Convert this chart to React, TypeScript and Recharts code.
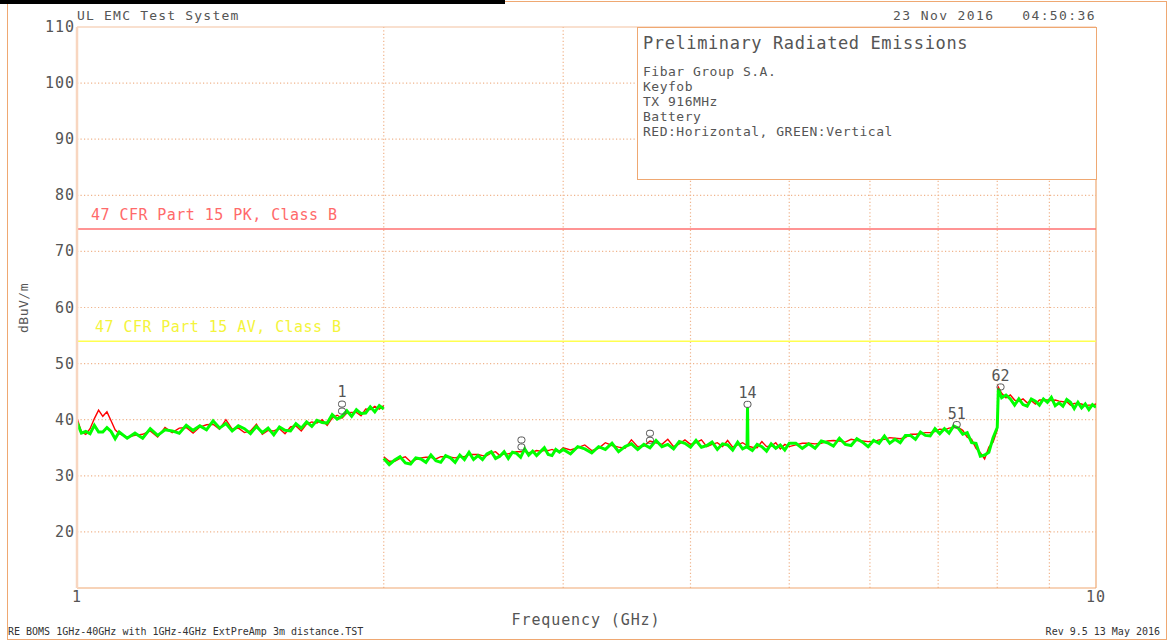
import React from 'react';
import { LineChart, Line, XAxis, YAxis, ReferenceLine, ReferenceDot } from 'recharts';

const MONO = '"DejaVu Sans Mono", monospace';

// Segment 1: 1 - 2 GHz
const freqA = [1.00, 1.01, 1.02, 1.03, 1.04, 1.05, 1.06, 1.07, 1.08, 1.09, 1.10, 1.12, 1.14, 1.16, 1.18, 1.20, 1.22, 1.24, 1.26, 1.28, 1.30, 1.32, 1.34, 1.36, 1.38, 1.40, 1.42, 1.44, 1.46, 1.48, 1.50, 1.52, 1.54, 1.56, 1.58, 1.60, 1.62, 1.64, 1.66, 1.68, 1.70, 1.72, 1.74, 1.76, 1.78, 1.80, 1.82, 1.84, 1.86, 1.88, 1.90, 1.92, 1.94, 1.96, 1.98, 2.00];
const greenA = [39.5, 37.6, 37.9, 37.5, 39.0, 37.8, 37.8, 38.6, 37.9, 36.6, 37.8, 36.7, 37.6, 36.7, 38.4, 37.2, 38.2, 38.0, 37.6, 39.0, 38.1, 38.9, 38.2, 39.8, 38.5, 39.3, 38.0, 38.9, 38.4, 37.5, 38.8, 37.7, 38.5, 37.3, 38.7, 38.1, 38.0, 39.3, 38.5, 39.6, 38.8, 39.9, 39.5, 39.4, 40.9, 40.1, 40.6, 41.6, 40.6, 41.8, 41.1, 41.2, 42.3, 41.4, 42.5, 41.9];
const redA = [40.3, 37.8, 37.4, 38.4, 40.2, 41.7, 40.6, 41.4, 39.8, 38.2, 37.5, 36.9, 37.2, 37.4, 38.0, 36.9, 38.6, 37.7, 38.5, 38.6, 37.6, 38.7, 39.1, 39.2, 38.3, 40.0, 38.3, 38.5, 37.7, 38.0, 39.2, 37.4, 38.1, 38.0, 38.4, 37.5, 38.7, 38.9, 38.0, 39.2, 39.6, 39.4, 40.0, 39.0, 40.3, 40.8, 40.3, 41.2, 41.3, 41.3, 40.7, 41.9, 41.8, 42.4, 41.9, 42.5];

// Segment 2: 2 - 8 GHz
const freqB = [
  2.000, 2.025, 2.050, 2.075, 2.100, 2.125, 2.150, 2.175, 2.200, 2.225, 2.250, 2.275, 2.300, 2.325, 2.350, 2.375, 2.400, 2.425, 2.450, 2.475, 2.500, 2.525, 2.550, 2.575, 2.600, 2.625, 2.650, 2.675, 2.700, 2.725, 2.750, 2.775, 2.800, 2.825, 2.850, 2.875, 2.900, 2.925, 2.950, 2.975, 3.000,
  3.05, 3.10, 3.15, 3.20, 3.25, 3.30, 3.35, 3.40, 3.45, 3.50, 3.55, 3.60, 3.65, 3.70, 3.75, 3.80, 3.85, 3.90, 3.95, 4.00, 4.05, 4.10, 4.15, 4.20, 4.25, 4.30, 4.35, 4.40, 4.45, 4.50, 4.545, 4.55, 4.555, 4.60, 4.65, 4.70, 4.75, 4.80, 4.85, 4.90, 4.95, 5.00,
  5.075, 5.15, 5.225, 5.30, 5.375, 5.45, 5.525, 5.60, 5.675, 5.75, 5.825, 5.90, 5.975, 6.05, 6.125, 6.20, 6.275, 6.35, 6.425, 6.50, 6.575, 6.65, 6.725, 6.80, 6.875, 6.95, 7.025, 7.10, 7.175, 7.25, 7.325, 7.40, 7.475, 7.55, 7.625, 7.70, 7.775, 7.85, 7.925, 8.00,
];
const greenB = [
  33.1, 32.0, 32.8, 33.4, 32.3, 32.1, 33.2, 33.0, 32.4, 33.7, 32.7, 32.4, 33.6, 33.2, 32.4, 33.7, 32.9, 34.2, 32.9, 33.6, 32.9, 33.9, 34.3, 33.1, 33.5, 34.3, 33.1, 34.2, 34.0, 33.3, 34.8, 33.7, 34.4, 33.6, 34.3, 35.0, 33.8, 33.6, 34.7, 34.2, 34.7,
  33.9, 35.2, 34.8, 34.1, 35.2, 34.7, 35.8, 34.3, 35.2, 35.7, 34.7, 35.6, 35.0, 36.3, 35.2, 35.6, 34.8, 36.1, 35.8, 35.1, 36.3, 35.1, 35.4, 36.0, 34.7, 35.7, 35.5, 34.6, 36.0, 34.8, 35.2, 42.2, 35.0, 34.5, 35.6, 35.2, 34.4, 35.7, 34.9, 35.5, 34.6, 35.8,
  35.8, 34.9, 35.7, 34.9, 36.2, 35.9, 35.3, 36.7, 35.6, 35.4, 36.6, 36.0, 35.2, 36.3, 35.8, 37.1, 35.8, 36.5, 35.9, 37.2, 37.2, 36.5, 37.8, 37.2, 37.1, 38.4, 37.5, 38.4, 37.6, 38.9, 38.5, 37.4, 37.7, 35.9, 35.8, 33.5, 33.7, 34.2, 36.8, 38.6,
];
const redB = [
  33.4, 32.6, 32.6, 33.1, 33.4, 32.5, 32.9, 33.2, 33.3, 33.3, 33.0, 33.4, 33.4, 33.3, 33.2, 33.4, 33.4, 33.8, 33.8, 33.8, 33.6, 33.6, 34.1, 34.3, 33.6, 33.9, 33.9, 34.1, 34.3, 34.3, 34.4, 34.1, 34.2, 34.5, 34.4, 34.5, 34.5, 34.7, 34.4, 34.4, 35.0,
  34.6, 35.0, 35.5, 34.5, 34.9, 35.9, 35.4, 35.1, 34.9, 36.4, 35.2, 35.3, 36.2, 35.9, 35.6, 36.5, 35.2, 35.7, 36.4, 35.6, 35.9, 36.4, 35.2, 35.6, 35.9, 35.2, 36.3, 35.1, 35.5, 35.9, 35.4, 35.6, 35.3, 35.1, 35.0, 36.1, 35.2, 35.3, 35.9, 34.8, 35.6, 35.2,
  35.5, 35.8, 35.8, 35.7, 35.8, 36.2, 36.3, 36.2, 36.0, 36.5, 36.3, 36.2, 36.1, 36.1, 36.4, 36.5, 36.8, 36.7, 36.6, 36.8, 37.4, 37.4, 37.5, 37.7, 37.7, 37.9, 38.3, 38.2, 38.5, 38.6, 38.6, 38.1, 36.9, 36.5, 34.9, 34.1, 33.0, 35.1, 36.0, 38.2,
];

// Segment 3: 8 - 10 GHz
const freqC = [8.02, 8.08, 8.16, 8.24, 8.32, 8.40, 8.48, 8.56, 8.64, 8.72, 8.80, 8.88, 8.96, 9.04, 9.12, 9.20, 9.28, 9.36, 9.44, 9.52, 9.60, 9.68, 9.76, 9.84, 9.92, 10.00];
const greenC = [45.5, 43.9, 44.4, 43.7, 42.6, 43.7, 42.7, 42.4, 43.7, 43.3, 42.6, 43.7, 43.1, 44.0, 42.5, 43.0, 42.4, 43.6, 43.1, 42.0, 43.1, 42.1, 42.8, 41.8, 42.7, 42.2];
const redC = [45.8, 44.7, 43.9, 44.4, 43.5, 43.3, 43.7, 43.0, 43.4, 42.8, 43.5, 43.5, 43.5, 43.4, 43.5, 43.3, 43.2, 43.2, 42.6, 42.9, 42.9, 42.8, 42.5, 42.6, 42.6, 42.8];

// Axes, grid, limits, markers
const yTicks = [20, 30, 40, 50, 60, 70, 80, 90, 100, 110];
const yGrid = [20, 30, 40, 50, 60, 70, 80, 90, 100];
const xTicks = [1, 10];
const xGrid = [2, 3, 4, 5, 6, 7, 8, 9];
const limitPK = 74;
const limitAV = 54;
const markerFreq = [1.82, 2.73, 3.65, 4.55, 7.30, 8.06];
const markerLevel = [41.0, 34.6, 35.8, 42.2, 38.6, 45.3];
const markerLabel = ['1', '', '', '14', '51', '62'];
const boxLines = ['Fibar Group S.A.', 'Keyfob', 'TX 916MHz', 'Battery', 'RED:Horizontal, GREEN:Vertical'];

const seg = (f: number[], r: number[], g: number[]) => f.map((x, i) => ({ f: x, red: r[i], green: g[i] }));
const rows: { f: number; red: number | null; green: number | null }[] = [
  ...seg(freqA, redA, greenA),
  { f: 2.0, red: null, green: null },
  ...seg(freqB, redB, greenB),
  ...seg(freqC, redC, greenC),
];

const FRAME = '#efa872';
const GRID = '#f0b48c';
const TEXT = '#555';

const YTick = (p: any) => (
  <text x={p.x} y={p.y} dy={5} textAnchor="end" fontSize={15} fontFamily={MONO} fill={TEXT} letterSpacing={1}>
    {p.payload.value}
  </text>
);
const XTick = (p: any) => (
  <text x={p.x} y={p.y} dy={12} textAnchor="middle" fontSize={15} fontFamily={MONO} fill={TEXT} letterSpacing={1}>
    {p.payload.value}
  </text>
);

const LimitLabel = (p: any) => {
  const vb = p.viewBox || { x: 0, y: 0 };
  return (
    <text x={vb.x + p.dx0} y={vb.y - 9} fontSize={15} fontFamily={MONO} fill={p.color} letterSpacing={0.45}>
      {p.text}
    </text>
  );
};

const markerShape = (label: string) => (p: any) => {
  const { cx, cy } = p;
  return (
    <g>
      <rect x={cx - 3.5} y={cy - 6} width={7} height={6} rx={2.5} fill="none" stroke="#555" strokeWidth={1} />
      {label === '' || label === '1' ? (
        <rect x={cx - 3.5} y={cy - 13} width={7} height={6} rx={2.5} fill="none" stroke="#555" strokeWidth={1} />
      ) : null}
      {label ? (
        <text x={cx} y={label === '1' ? cy - 17 : cy - 9} textAnchor="middle" fontSize={15} fontFamily={MONO} fill="#555">
          {label}
        </text>
      ) : null}
    </g>
  );
};

const abs = (s: React.CSSProperties): React.CSSProperties => ({
  position: 'absolute',
  whiteSpace: 'pre',
  fontFamily: MONO,
  color: TEXT,
  ...s,
});

export default function App() {
  return (
    <div style={{ position: 'absolute', left: 0, top: 0, width: 1167, height: 642, background: '#fff', overflow: 'hidden' }}>
      {/* page frame */}
      <div style={{ position: 'absolute', left: 7, top: 1, width: 1160, height: 639, border: `1px solid ${FRAME}`, boxSizing: 'border-box' }} />
      <div style={{ position: 'absolute', left: 0, top: 0, width: 505, height: 4, background: '#000' }} />

      <div style={{ position: 'absolute', left: 0, top: 0 }}>
        <LineChart width={1167} height={642} data={rows} margin={{ top: 27, right: 71, bottom: 0, left: 0 }}>
          <XAxis
            dataKey="f"
            type="number"
            scale="log"
            domain={[1, 10]}
            allowDataOverflow
            ticks={xTicks}
            height={54}
            tickSize={0}
            tickMargin={2}
            tickLine={false}
            tick={XTick}
            axisLine={{ stroke: FRAME, strokeWidth: 1.2 }}
          />
          <YAxis
            type="number"
            domain={[10, 110]}
            allowDataOverflow
            ticks={yTicks}
            interval={0}
            width={77}
            tickSize={0}
            tickMargin={2}
            tickLine={false}
            tick={YTick}
            axisLine={{ stroke: '#f8d6c0', strokeWidth: 2.5 }}
          />
          {yGrid.map((v) => (
            <ReferenceLine key={'h' + v} y={v} stroke={GRID} strokeDasharray="1.2 2.3" strokeWidth={1.2} />
          ))}
          {xGrid.map((v) => (
            <ReferenceLine key={'v' + v} x={v} stroke={GRID} strokeDasharray="1.2 2.3" strokeWidth={1.2} />
          ))}
          <ReferenceLine y={110} stroke="#f3c2a0" strokeWidth={1.2} />
          <ReferenceLine x={10} stroke={FRAME} strokeWidth={1.2} />
          <ReferenceLine
            y={limitPK}
            stroke="#ff7070"
            strokeWidth={1.5}
            label={<LimitLabel text="47 CFR Part 15 PK, Class B" color="#ff6a6a" dx0={14} />}
          />
          <ReferenceLine
            y={limitAV}
            stroke="#ffff50"
            strokeWidth={1.5}
            label={<LimitLabel text="47 CFR Part 15 AV, Class B" color="#f4f43c" dx0={18} />}
          />
          <Line dataKey="red" stroke="#ff0000" strokeWidth={1.4} dot={false} activeDot={false} connectNulls={false} isAnimationActive={false} type="linear" />
          <Line dataKey="green" stroke="#00ff00" strokeWidth={3} dot={false} activeDot={false} connectNulls={false} isAnimationActive={false} type="linear" />
          {markerFreq.map((f, i) => (
            <ReferenceDot key={'m' + i} x={f} y={markerLevel[i]} r={3} shape={markerShape(markerLabel[i])} />
          ))}
        </LineChart>
      </div>

      {/* header */}
      <div style={abs({ left: 77, top: 8, fontSize: 13, lineHeight: '16px', letterSpacing: 1.2 })}>UL EMC Test System</div>
      <div style={abs({ right: 71, top: 8, fontSize: 13, lineHeight: '16px', letterSpacing: 1.4 })}>{'23 Nov 2016   04:50:36'}</div>

      {/* info box */}
      <div
        style={{
          position: 'absolute',
          left: 637,
          top: 27,
          width: 460,
          height: 153,
          border: `1px solid ${FRAME}`,
          background: '#fff',
          boxSizing: 'border-box',
        }}
      />
      <div style={abs({ left: 643, top: 33, fontSize: 17, lineHeight: '20px', letterSpacing: 0.6 })}>Preliminary Radiated Emissions</div>
      {boxLines.map((t, i) => (
        <div key={t} style={abs({ left: 643, top: 64 + i * 15, fontSize: 13, lineHeight: '15px', letterSpacing: 0.5 })}>
          {t}
        </div>
      ))}

      {/* axis titles */}
      <div style={abs({ left: 436, width: 300, textAlign: 'center', top: 610, fontSize: 15, lineHeight: '20px', letterSpacing: 0.9 })}>Frequency (GHz)</div>
      <div
        style={abs({
          left: 24,
          top: 308,
          fontSize: 13,
          lineHeight: '14px',
          letterSpacing: 0.5,
          transform: 'translate(-50%, -50%) rotate(-90deg)',
        })}
      >
        dBuV/m
      </div>

      {/* footer */}
      <div style={abs({ left: 8, top: 626, fontSize: 10, lineHeight: '12px', color: '#333' })}>RE BOMS 1GHz-40GHz with 1GHz-4GHz ExtPreAmp 3m distance.TST</div>
      <div style={abs({ right: 7, top: 626, fontSize: 10, lineHeight: '12px', color: '#333' })}>Rev 9.5 13 May 2016</div>
    </div>
  );
}
